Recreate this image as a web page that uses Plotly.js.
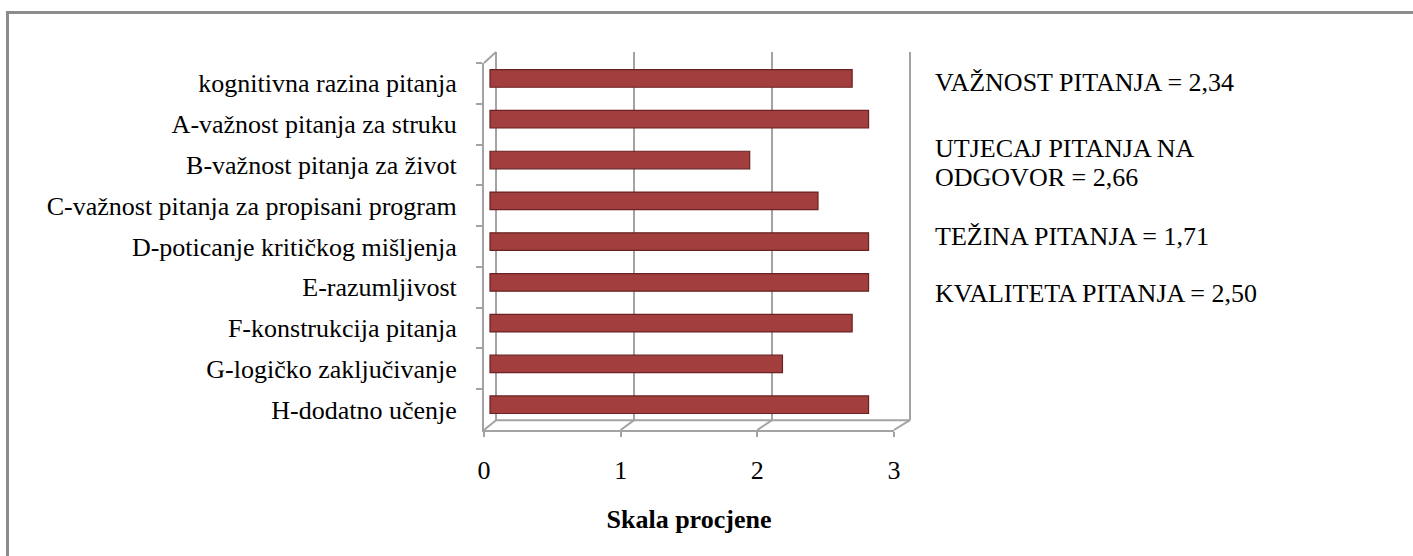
<!DOCTYPE html>
<html>
<head>
<meta charset="utf-8">
<script src="https://cdn.plot.ly/plotly-3.0.1.min.js"></script>
<style>
  html, body { margin: 0; padding: 0; background: #fff; }
  #wrap { position: relative; width: 1413px; height: 556px; overflow: hidden; }
  #chart { position: absolute; left: 0; top: 0; width: 1413px; height: 556px; }
  #frame { position: absolute; left: 6px; top: 11px; width: 1500px; height: 600px;
           border-left: 3px solid #8c8c8c; border-top: 3px solid #8c8c8c; pointer-events: none; }
</style>
</head>
<body>
<div id="wrap">
  <div id="chart"></div>
  <div id="frame"></div>
</div>
<script>
// Categories (top to bottom)
const categories = [
  "kognitivna razina pitanja",
  "A-važnost pitanja za struku",
  "B-važnost pitanja za život",
  "C-važnost pitanja za propisani program",
  "D-poticanje kritičkog mišljenja",
  "E-razumljivost",
  "F-konstrukcija pitanja",
  "G-logičko zaključivanje",
  "H-dodatno učenje"
];
// Mean ratings
const values = [2.65, 2.77, 1.90, 2.40, 2.77, 2.77, 2.65, 2.14, 2.77];
// Axis ticks
const xTicks = [0, 1, 2, 3];
const xTickLabels = ["0", "1", "2", "3"];
// Summary texts on the right
const summaryLines = [
  "VAŽNOST PITANJA = 2,34",
  "UTJECAJ PITANJA NA",
  "ODGOVOR = 2,66",
  "TEŽINA PITANJA = 1,71",
  "KVALITETA PITANJA = 2,50"
];
const summaryY = [0.918, 0.746, 0.669, 0.511, 0.362];
const xTitle = "Skala procjene";

const FONT = "Liberation Serif, Times New Roman, serif";
const GRID = "#A3A3A3";

// pseudo-3D geometry (plot area fractions): front plane and back wall
const FRONT_X = [0, 0.9624];
const BACK_X = [0.0282, 1.0];
const FRONT_Y = [0, 0.971];
const BACK_Y = [0.026, 1.0];
const xRange = 3;
// bars sit on the middle depth plane: same scale, shifted by half the depth
const MID_SHIFT = -0.044;

const traces = [
  // front axes (axis lines, ticks and labels)
  { type: "scatter", mode: "none", x: [], y: [], xaxis: "x", yaxis: "y", hoverinfo: "skip", showlegend: false },
  {
    type: "bar",
    orientation: "h",
    y: categories,
    x: values,
    xaxis: "x2",
    yaxis: "y",
    width: 0.43,
    offset: -0.335,
    marker: { color: "#A23E3E", line: { color: "#6A2222", width: 1.2 } },
    hoverinfo: "x+y"
  }
];

const annotations = summaryLines.map((t, i) => ({
  text: t,
  xref: "paper", yref: "paper",
  x: 1.054, y: summaryY[i],
  xanchor: "left", yanchor: "middle",
  showarrow: false,
  font: { family: FONT, size: 26, color: "#000" }
}));

const backX = t => BACK_X[0] + (t / xRange) * (BACK_X[1] - BACK_X[0]);
const frontX = t => FRONT_X[0] + (t / xRange) * (FRONT_X[1] - FRONT_X[0]);

// back-wall gridlines at each tick
const shapes = xTicks.map(t => ({
  type: "line", xref: "paper", yref: "paper", layer: "below",
  x0: backX(t), x1: backX(t), y0: BACK_Y[0], y1: BACK_Y[1],
  line: { color: GRID, width: 2 }
}));
// floor edge of the back wall
shapes.push({
  type: "line", xref: "paper", yref: "paper", layer: "below",
  x0: backX(0), x1: backX(xRange), y0: BACK_Y[0], y1: BACK_Y[0],
  line: { color: GRID, width: 2 }
});
// connectors from the front axis ticks to the back wall
xTicks.forEach(t => shapes.push({
  type: "line", xref: "paper", yref: "paper", layer: "below",
  x0: frontX(t), y0: FRONT_Y[0], x1: backX(t), y1: BACK_Y[0],
  line: { color: GRID, width: 2 }
}));
shapes.push({
  type: "line", xref: "paper", yref: "paper", layer: "below",
  x0: FRONT_X[0], y0: FRONT_Y[1], x1: BACK_X[0], y1: BACK_Y[1],
  line: { color: GRID, width: 2 }
});

const layout = {
  width: 1413, height: 556,
  margin: { l: 484, r: 503, t: 52, b: 126, pad: 0 },
  paper_bgcolor: "#fff",
  plot_bgcolor: "rgba(0,0,0,0)",
  showlegend: false,
  font: { family: FONT, size: 26, color: "#000" },
  // overlay axis for the bars (middle depth plane)
  xaxis2: {
    overlaying: "x", anchor: "y",
    range: [MID_SHIFT, MID_SHIFT + xRange],
    showticklabels: false, showgrid: false, zeroline: false, showline: false,
    ticks: ""
  },
  // front axes
  xaxis: {
    domain: FRONT_X, anchor: "y",
    range: [0, xRange],
    tickvals: xTicks,
    ticktext: xTickLabels,
    showgrid: false,
    zeroline: false,
    showline: true,
    linecolor: GRID,
    linewidth: 2,
    ticks: "outside",
    ticklen: 5,
    tickwidth: 2,
    tickcolor: GRID,
    ticklabelstandoff: 11,
    tickfont: { family: FONT, size: 26, color: "#000" },
    title: {
      text: "<b>" + xTitle + "</b>",
      font: { family: FONT, size: 26, color: "#000" },
      standoff: 26
    }
  },
  yaxis: {
    domain: FRONT_Y, anchor: "x",
    autorange: "reversed",
    type: "category",
    categoryorder: "array",
    categoryarray: categories,
    showgrid: false,
    zeroline: false,
    showline: true,
    linecolor: GRID,
    linewidth: 2,
    ticks: "outside",
    tickson: "boundaries",
    ticklen: 6,
    tickwidth: 2,
    tickcolor: GRID,
    ticklabelstandoff: 20,
    tickfont: { family: FONT, size: 26, color: "#000" }
  },
  shapes: shapes,
  annotations: annotations
};

Plotly.newPlot("chart", traces, layout, { displayModeBar: false });
</script>
</body>
</html>
